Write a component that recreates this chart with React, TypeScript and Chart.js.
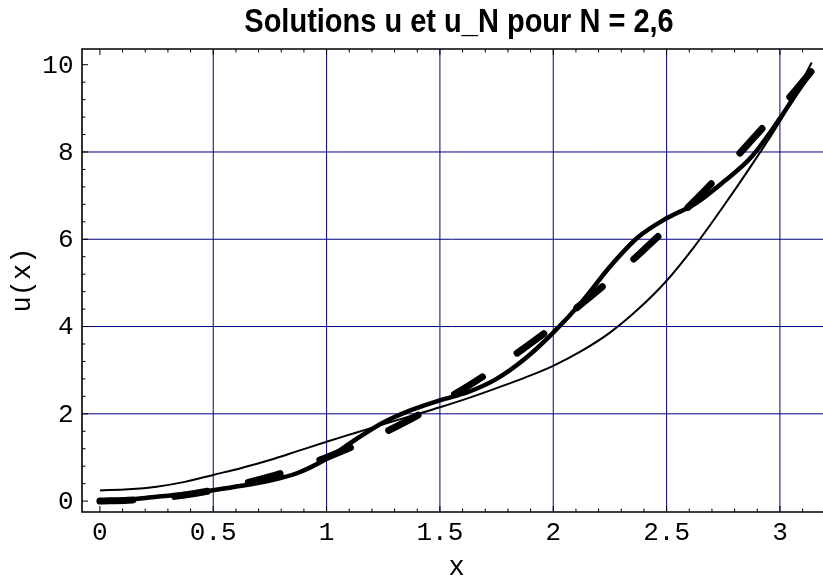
import React, { useEffect, useRef } from "react";
import { Chart, registerables } from "chart.js";

Chart.register(...registerables);

// ---- data ----
const xValues = [0, 0.125, 0.25, 0.375, 0.5, 0.625, 0.75, 0.875, 1.0, 1.125, 1.25, 1.375, 1.5, 1.625, 1.75, 1.875, 2.0, 2.125, 2.25, 2.375, 2.5, 2.625, 2.75, 2.875, 3.0, 3.07, 3.14];
// exact solution u (thick dashed)
const uExact = [0, 0.02, 0.06, 0.14, 0.25, 0.39, 0.56, 0.77, 1.0, 1.27, 1.56, 1.89, 2.25, 2.64, 3.06, 3.52, 4.0, 4.52, 5.06, 5.64, 6.25, 6.89, 7.56, 8.27, 9.0, 9.42, 9.86];
// u_N, N = 6 (thick solid)
const uN6 = [0.0, 0.03, 0.1, 0.16, 0.25, 0.35, 0.47, 0.65, 0.97, 1.4, 1.8, 2.09, 2.31, 2.5, 2.8, 3.26, 3.86, 4.56, 5.37, 6.05, 6.48, 6.81, 7.31, 7.89, 8.77, 9.32, 9.84];
// u_N, N = 2 (thin solid)
const uN2 = [0.245, 0.27, 0.33, 0.44, 0.6, 0.76, 0.94, 1.15, 1.36, 1.56, 1.76, 1.955, 2.15, 2.36, 2.59, 2.83, 3.1, 3.44, 3.86, 4.4, 5.05, 5.85, 6.75, 7.7, 8.7, 9.35, 10.05];

const xTickValues = [0, 0.5, 1, 1.5, 2, 2.5, 3];
const xTickLabels = ["0", "0.5", "1", "1.5", "2", "2.5", "3"];
const yTickValues = [0, 2, 4, 6, 8, 10];
const yTickLabels = ["0", "2", "4", "6", "8", "10"];
const xMinorTicks = [0.1, 0.2, 0.3, 0.4, 0.6, 0.7, 0.8, 0.9, 1.1, 1.2, 1.3, 1.4, 1.6, 1.7, 1.8, 1.9, 2.1, 2.2, 2.3, 2.4, 2.6, 2.7, 2.8, 2.9, 3.1];
const yMinorTicks = [0.4, 0.8, 1.2, 1.6, 2.4, 2.8, 3.2, 3.6, 4.4, 4.8, 5.2, 5.6, 6.4, 6.8, 7.2, 7.6, 8.4, 8.8, 9.2, 9.6];
const xGridValues = [0.5, 1, 1.5, 2, 2.5, 3];
const yGridValues = [2, 4, 6, 8];

const titleText = "Solutions u et u_N pour N = 2,6";
const xAxisLabel = "x";
const yAxisLabel = "u(x)";

const X_MIN = -0.079;
const X_MAX = 3.19;
const Y_MIN = -0.25;
const Y_MAX = 10.36;

const GRID_COLOR = "#000080";
const MONO = "'Liberation Mono', 'DejaVu Sans Mono', monospace";
const SANS = "'Liberation Sans', Arial, sans-serif";

const framePlugin = {
  id: "mmaFrame",
  beforeDatasetsDraw(chart: any) {
    const { ctx, chartArea: a } = chart;
    const xs = chart.scales.x;
    const ys = chart.scales.y;
    ctx.save();
    ctx.strokeStyle = GRID_COLOR;
    ctx.lineWidth = 1;
    ctx.beginPath();
    for (const v of xGridValues) {
      const p = xs.getPixelForValue(v);
      ctx.moveTo(p, a.top);
      ctx.lineTo(p, a.bottom);
    }
    for (const v of yGridValues) {
      const p = ys.getPixelForValue(v);
      ctx.moveTo(a.left, p);
      ctx.lineTo(a.right, p);
    }
    ctx.stroke();
    ctx.restore();
  },
  afterDatasetsDraw(chart: any) {
    const { ctx, chartArea: a } = chart;
    const xs = chart.scales.x;
    const ys = chart.scales.y;
    ctx.save();
    // frame
    ctx.strokeStyle = "#000";
    ctx.lineWidth = 1.6;
    ctx.beginPath();
    ctx.moveTo(a.right + 2, a.top);
    ctx.lineTo(a.left, a.top);
    ctx.lineTo(a.left, a.bottom);
    ctx.lineTo(a.right + 2, a.bottom);
    ctx.stroke();
    // ticks (inward)
    ctx.lineWidth = 1;
    ctx.beginPath();
    const tickX = (v: number, len: number) => {
      const p = xs.getPixelForValue(v);
      ctx.moveTo(p, a.bottom);
      ctx.lineTo(p, a.bottom - len);
      ctx.moveTo(p, a.top);
      ctx.lineTo(p, a.top + len);
    };
    const tickY = (v: number, len: number) => {
      const p = ys.getPixelForValue(v);
      ctx.moveTo(a.left, p);
      ctx.lineTo(a.left + len, p);
    };
    xTickValues.forEach((v) => tickX(v, 6));
    xMinorTicks.forEach((v) => tickX(v, 3.5));
    yTickValues.forEach((v) => tickY(v, 6));
    yMinorTicks.forEach((v) => tickY(v, 3.5));
    ctx.stroke();

    // tick labels
    ctx.fillStyle = "#000";
    ctx.font = `26px ${MONO}`;
    ctx.textBaseline = "alphabetic";
    ctx.textAlign = "center";
    xTickValues.forEach((v, i) => {
      ctx.fillText(xTickLabels[i], xs.getPixelForValue(v), a.bottom + 27.5);
    });
    ctx.textAlign = "right";
    yTickValues.forEach((v, i) => {
      ctx.fillText(yTickLabels[i], a.left - 8.5, ys.getPixelForValue(v) + 7.8);
    });

    // axis labels
    ctx.font = `27px ${MONO}`;
    ctx.textAlign = "center";
    ctx.fillText(xAxisLabel, 456.7, 575);
    ctx.save();
    ctx.translate(30, 280);
    ctx.rotate(-Math.PI / 2);
    ctx.fillText(yAxisLabel, 0, 0);
    ctx.restore();

    // title
    ctx.save();
    ctx.translate(459, 32);
    ctx.scale(1, 1.15);
    ctx.font = `bold 29px ${SANS}`;
    ctx.textAlign = "center";
    ctx.fillText(titleText, 0, 0);
    ctx.restore();

    ctx.restore();
  },
};

export default function App() {
  const ref = useRef<HTMLCanvasElement>(null);
  useEffect(() => {
    document.body.style.margin = "0";
    const canvas = ref.current!;
    const toPts = (ys: number[]) => xValues.map((x, i) => ({ x, y: ys[i] }));
    const chart = new Chart(canvas, {
      type: "scatter",
      data: {
        datasets: [
          {
            label: "u",
            data: toPts(uExact),
            showLine: true,
            borderColor: "#000",
            backgroundColor: "#000",
            borderWidth: 7,
            borderDash: [33, 42],
            borderCapStyle: "round",
            pointRadius: 0,
            cubicInterpolationMode: "monotone",
          },
          {
            label: "u_6",
            data: toPts(uN6),
            showLine: true,
            borderColor: "#000",
            backgroundColor: "#000",
            borderWidth: 4.5,
            borderCapStyle: "round",
            borderJoinStyle: "round",
            pointRadius: 0,
            cubicInterpolationMode: "monotone",
          },
          {
            label: "u_2",
            data: toPts(uN2),
            showLine: true,
            borderColor: "#000",
            backgroundColor: "#000",
            borderWidth: 2,
            pointRadius: 0,
            cubicInterpolationMode: "monotone",
          },
        ],
      } as any,
      options: {
        animation: false,
        responsive: false,
        devicePixelRatio: 1,
        layout: { padding: { top: 49, left: 0, right: 0, bottom: 0 } },
        plugins: {
          legend: { display: false },
          tooltip: { enabled: false },
          title: { display: false },
        },
        scales: {
          x: {
            type: "linear",
            min: X_MIN,
            max: X_MAX,
            grid: { display: false, drawTicks: false },
            border: { display: false },
            ticks: { display: false },
            afterFit: (s: any) => {
              s.height = 70;
            },
          },
          y: {
            type: "linear",
            min: Y_MIN,
            max: Y_MAX,
            grid: { display: false, drawTicks: false },
            border: { display: false },
            ticks: { display: false },
            afterFit: (s: any) => {
              s.width = 82;
            },
          },
        },
      } as any,
      plugins: [framePlugin],
    });
    return () => chart.destroy();
  }, []);
  return (
    <div style={{ position: "absolute", left: 0, top: 0, width: 823, height: 582, background: "#fff" }}>
      <canvas ref={ref} width={823} height={582} />
    </div>
  );
}
